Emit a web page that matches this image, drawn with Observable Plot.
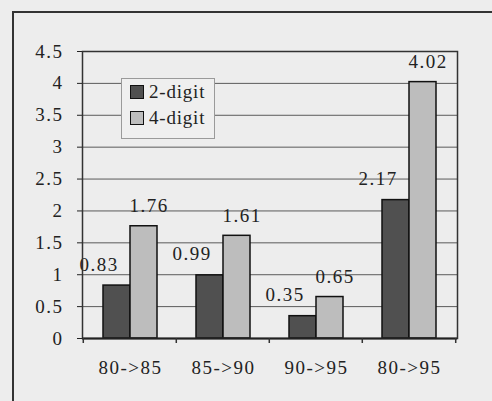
<!DOCTYPE html>
<html>
<head>
<meta charset="utf-8">
<script src="https://cdn.jsdelivr.net/npm/d3@7"></script>
<script src="https://cdn.jsdelivr.net/npm/@observablehq/plot@0.6"></script>
<style>
  html, body { margin: 0; padding: 0; background: #ededed; width: 492px; height: 401px; overflow: hidden; }
  #wrap { position: relative; width: 492px; height: 401px; }
  #outer { position: absolute; left: 12px; top: 11px; width: 500px; height: 420px;
           border-left: 2px solid #333; border-top: 2px solid #333; box-sizing: border-box; }
  #chart { position: absolute; left: 0; top: 0; }
  #legend { position: absolute; left: 121px; top: 78px; width: 94px; height: 61px; box-sizing: border-box;
            border: 1px solid #9a9a9a; background: #efefef; font-family: "Liberation Serif", "DejaVu Serif", serif;
            font-size: 19px; color: #222; letter-spacing: 0.8px; }
  .row { position: absolute; left: 8px; display: flex; align-items: center; }
  .sw { width: 12px; height: 12px; border: 1px solid #111; margin-right: 5px; }
  svg text { font-family: "Liberation Serif", "DejaVu Serif", serif; }
</style>
</head>
<body>
<div id="wrap">
  <div id="outer"></div>
  <div id="chart"></div>
  <div id="legend"></div>
</div>
<script>
const categories = ["80->85", "85->90", "90->95", "80->95"];
const series = ["2-digit", "4-digit"];
const twoDigit = [0.83, 0.99, 0.35, 2.17];
const fourDigit = [1.76, 1.61, 0.65, 4.02];
const yTicks = [0, 0.5, 1, 1.5, 2, 2.5, 3, 3.5, 4, 4.5];
const colors = ["#505050", "#bdbdbd"];

const rows = [];
categories.forEach((c, i) => {
  rows.push({cat: c, series: series[0], value: twoDigit[i]});
  rows.push({cat: c, series: series[1], value: fourDigit[i]});
});
const dark = rows.filter(d => d.series === series[0]);
const light = rows.filter(d => d.series === series[1]);

const W = 492, H = 401;
const mL = 82, mR = 35, mT = 51, mB = 63;
const fx = {paddingInner: 0.424, paddingOuter: 0.212};
const step = (W - mL - mR) / (categories.length - fx.paddingInner + 2 * fx.paddingOuter);
const half = step * (1 - fx.paddingInner) / 2;

const font = "Liberation Serif, DejaVu Serif, serif";

const plot = Plot.plot({
  width: W, height: H,
  marginLeft: mL, marginRight: mR, marginTop: mT, marginBottom: mB,
  style: {background: "transparent", fontFamily: font, fontSize: "19px", color: "#222"},
  x: {domain: categories, paddingInner: fx.paddingInner, paddingOuter: fx.paddingOuter, label: null,
      tickSize: 0, tickPadding: 22},
  y: {domain: [0, 4.5], ticks: yTicks, tickFormat: d => String(d), label: null, tickSize: 5, tickPadding: 14},
  marks: [
    Plot.ruleY(yTicks.slice(1, -1), {stroke: "#5a5a5a", strokeWidth: 1}),
    Plot.barY(dark, {x: "cat", y: "value", fill: colors[0], stroke: "#111", strokeWidth: 1.5, insetRight: half}),
    Plot.barY(light, {x: "cat", y: "value", fill: colors[1], stroke: "#111", strokeWidth: 1.5, insetLeft: half}),
    Plot.text(dark, {x: "cat", y: "value", text: d => d.value.toFixed(2), dx: -half / 2 - 18, dy: -21,
      fontSize: 19, fill: "#222"}),
    Plot.text(light, {x: "cat", y: "value", text: d => d.value.toFixed(2), dx: half / 2 + 5, dy: -20,
      fontSize: 19, fill: "#222"}),
    Plot.frame({stroke: "#333", strokeWidth: 1.5}),
    Plot.ruleY([0], {stroke: "#222", strokeWidth: 2})
  ]
});
d3.select(plot).selectAll("text").style("letter-spacing", "1.5px");
document.getElementById("chart").append(plot);

// boundary tick marks below the x axis, from the x scale
const xs = plot.scale("x");
const svg = d3.select(plot);
const y0 = plot.scale("y").apply(0);
const bounds = categories.map(c => xs.apply(c) - xs.step * fx.paddingInner / 2);
bounds.push(xs.apply(categories[categories.length - 1]) + xs.bandwidth + xs.step * fx.paddingInner / 2);
svg.append("g").selectAll("line").data(bounds).join("line")
  .attr("x1", d => d).attr("x2", d => d).attr("y1", y0).attr("y2", y0 + 5)
  .attr("stroke", "#333").attr("stroke-width", 1.5);

// legend
const lg = document.getElementById("legend");
series.forEach((s, i) => {
  const r = document.createElement("div");
  r.className = "row";
  r.style.top = (i === 0 ? 2 : 28) + "px";
  r.innerHTML = `<div class="sw" style="background:${colors[i]}"></div><span>${s}</span>`;
  lg.append(r);
});
</script>
</body>
</html>
